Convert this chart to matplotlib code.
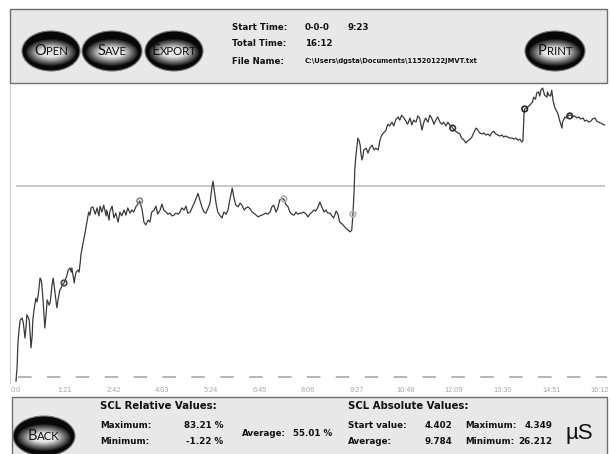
import numpy as np
import matplotlib.pyplot as plt
from matplotlib.patches import Ellipse, Rectangle
from matplotlib.offsetbox import TextArea, HPacker, AnnotationBbox

# SCL relative value (%) against recording time (s)
t_sec = [
    0, 2, 3, 5, 7, 10, 12, 15, 17, 18, 20, 22, 25, 27, 28, 30, 32, 33, 35, 37,
    40, 42, 43, 45, 48, 50, 52, 55, 57, 60, 62, 63, 65, 68, 70, 73, 75, 77, 80, 82,
    85, 87, 90, 92, 93, 97, 98, 100, 103, 105, 107, 108, 112, 115, 118, 121, 123, 125,
    128, 132, 135, 138, 140, 143, 146, 150, 151, 155, 156, 160, 163, 166, 170, 173,
    176, 180, 183, 186, 190, 193, 196, 200, 203, 206, 210, 213, 216, 220, 223, 226,
    230, 233, 236, 240, 243, 246, 250, 253, 256, 260, 263, 266, 270, 273, 276, 280,
    283, 286, 290, 293, 296, 300, 303, 306, 310, 313, 316, 320, 323, 326, 328, 330,
    333, 336, 340, 343, 346, 350, 353, 356, 360, 363, 366, 370, 373, 376, 380, 383,
    386, 390, 393, 396, 400, 403, 406, 409, 413, 416, 419, 423, 426, 429, 433, 436,
    439, 443, 446, 449, 453, 456, 459, 463, 466, 469, 473, 476, 479, 483, 486, 489,
    493, 496, 499, 503, 506, 509, 513, 516, 519, 523, 526, 529, 533, 536, 539, 543,
    546, 549, 553, 556, 559, 561, 563, 564, 566, 568, 569, 571, 573, 574, 576, 578,
    579, 583, 586, 589, 593, 596, 599, 603, 606, 609, 613, 616, 619, 622, 626, 629,
    632, 636, 639, 642, 646, 649, 652, 656, 659, 662, 666, 669, 672, 676, 679, 682,
    686, 689, 692, 696, 699, 702, 706, 709, 712, 716, 719, 722, 726, 729, 732, 736,
    739, 742, 746, 749, 752, 756, 759, 762, 766, 769, 772, 776, 779, 782, 786, 789,
    792, 795, 799, 802, 806, 809, 812, 815, 819, 822, 826, 829, 832, 836, 839, 842,
    844, 846, 847, 850, 854, 857, 860, 862, 865, 867, 870, 872, 874, 877, 880, 884,
    885, 887, 890, 892, 894, 897, 899, 902, 905, 909, 910, 914, 917, 920, 924, 927,
    930, 934, 937, 940, 944, 947, 950, 954, 957, 960, 964, 967, 970, 974, 977, 980,
]
scl_pct = [
    -1.2, 3.5, 9.2, 13.5, 16.4, 17.0, 15.8, 11.2, 15.0, 17.9, 17.3, 16.4, 8.4, 12.1, 16.4, 19.3, 21.6, 22.7, 21.6, 23.6,
    28.5, 27.9, 26.5, 22.2, 14.1, 17.9, 22.2, 20.7, 21.6, 26.5, 28.5, 27.1, 24.5, 19.9, 22.2, 25.1, 25.6, 26.5, 27.1, 27.9,
    29.4, 30.8, 31.4, 30.2, 31.4, 27.1, 28.5, 30.2, 30.8, 30.2, 33.1, 35.1, 38.9, 41.5, 44.6, 47.5, 46.6, 48.7,
    49.0, 46.9, 48.7, 46.4, 49.2, 47.5, 49.5, 46.4, 48.1, 45.2, 47.5, 49.2, 45.8, 47.2, 44.6, 47.5,
    46.4, 48.1, 46.6, 48.7, 47.2, 48.1, 47.5, 49.2, 49.8, 50.7, 48.1, 44.6, 43.8, 45.2, 44.6, 47.5,
    48.1, 49.2, 46.9, 48.1, 49.8, 48.1, 47.5, 46.9, 47.2, 46.4, 46.6, 47.2, 46.9, 47.5, 48.7, 48.1,
    49.2, 47.2, 47.5, 48.7, 49.8, 51.5, 52.9, 51.0, 48.7, 47.5, 47.2, 48.7, 50.1, 54.4, 56.4, 53.8,
    50.1, 47.5, 46.4, 45.8, 47.5, 46.9, 48.1, 51.0, 54.4, 51.5, 49.5, 49.0, 50.1, 49.5, 48.1, 48.7,
    49.0, 48.4, 47.5, 47.2, 46.6, 46.1, 46.4, 46.6, 46.9, 47.2, 46.9, 47.5, 49.0, 49.5, 47.5, 48.7,
    51.0, 51.3, 51.3, 49.8, 49.0, 47.5, 46.9, 46.6, 47.5, 46.9, 47.2, 47.2, 47.5, 46.9, 46.1, 46.9,
    47.5, 48.1, 47.8, 49.0, 50.4, 49.0, 47.5, 48.1, 47.2, 47.2, 46.4, 45.8, 47.8, 46.9, 44.6, 44.1,
    43.5, 42.9, 42.3, 41.8, 42.3, 46.9, 53.8, 59.6, 63.9, 66.8, 68.8, 68.2, 66.8, 64.8, 62.5, 63.9,
    65.4, 65.9, 64.5, 65.9, 66.8, 65.4, 65.9, 65.4, 68.2, 69.7, 70.5, 71.1, 72.8, 72.3, 73.4, 72.3,
    74.0, 74.9, 74.0, 75.4, 74.6, 73.7, 72.8, 74.6, 72.6, 74.0, 73.4, 75.2, 74.6, 71.1, 73.4, 74.6,
    73.4, 75.4, 74.6, 72.8, 74.0, 74.9, 73.4, 72.8, 73.4, 72.3, 73.4, 72.6, 72.0, 71.1, 70.8, 70.3,
    70.0, 68.8, 68.2, 67.4, 68.0, 68.5, 69.1, 70.3, 71.7, 71.1, 70.3, 70.0, 70.3, 69.7, 70.0, 69.4,
    70.3, 70.8, 70.0, 69.7, 69.4, 69.7, 69.1, 69.4, 69.1, 68.8, 68.8, 68.5, 68.8, 68.2, 68.5, 67.7,
    68.0, 76.3, 77.2, 77.5, 78.0, 78.6, 79.2, 80.6, 80.0, 81.8, 82.1, 80.9, 82.6, 83.2, 81.2, 80.6,
    82.1, 81.2, 80.9, 82.6, 79.8, 77.7, 76.9, 76.0, 74.0, 71.7, 73.4, 74.9, 74.6, 75.4, 75.4, 74.9,
    75.2, 74.6, 74.9, 74.3, 74.6, 73.7, 74.0, 73.4, 73.7, 74.3, 74.6, 73.7, 73.4, 73.1, 72.8, 72.6,
]

# event markers on the trace
mark_t = [80, 206, 446, 561, 727, 847, 922]
mark_v = [27.1, 50.7, 51.3, 46.9, 71.7, 77.2, 75.2]
mark_col = ['#444444', '#888888', '#b0b0b0', '#b0b0b0', '#333333', '#222222', '#333333']

avg_pct = 55.01
tick_sec = [0, 81, 162, 243, 324, 405, 486, 567, 648, 729, 810, 891, 972]
tick_lbl = ['0:0', '1:21', '2:42', '4:03', '5:24', '6:45', '8:06',
            '9:27', '10:48', '12:09', '13:30', '14:51', '16:12']

fig = plt.figure(figsize=(6.1, 4.54), dpi=100)
W, H = 610, 454

# chart area
ax = fig.add_axes([10 / W, 71 / H, 597 / W, 298 / H])
ax.plot(t_sec, scl_pct, color='#3a3a3a', lw=0.9, zorder=2)
ax.scatter(mark_t, mark_v, s=16, facecolors='none', edgecolors=mark_col,
           linewidths=1.2, zorder=3)
ax.hlines(avg_pct, 0, 980, color='#c4c4c4', lw=1.3, zorder=1)
ax.hlines(0, 3, 995, color='#b0b0b0', lw=1.3, linestyles=(0, (7.5, 8.5)), zorder=1)
ax.set_xlim(-10, 984)
ax.set_ylim(-1.73, 84.1)
ax.set_xticks(tick_sec, tick_lbl)
ax.set_yticks([])
ax.tick_params(axis='x', length=0, pad=3, labelsize=5.3, labelcolor='#a8a8a8')
for lab in ax.get_xticklabels():
    lab.set_family('Liberation Sans')
for s in ['top', 'right', 'bottom']:
    ax.spines[s].set_visible(False)
ax.spines['left'].set_color('#cccccc')

# overlay in pixel units for the panels
ov = fig.add_axes([0, 0, 1, 1])
ov.set_xlim(0, W)
ov.set_ylim(H, 0)
ov.axis('off')

ov.add_patch(Rectangle((10, 9), 597, 74, fc='#e8e8e8', ec='#6e6e6e', lw=1))
ov.add_patch(Rectangle((12, 397), 595, 70, fc='#e8e8e8', ec='#6e6e6e', lw=1))


def button(cx, cy, w, h, word):
    ov.add_patch(Ellipse((cx, cy), w, h, fc='#080808', ec='#777777', lw=0.8))
    n = 10
    for k in range(n):
        f = k / (n - 1)
        g = 0.15 + 0.75 * f
        ov.add_patch(Ellipse((cx, cy + 1.5), w * (0.86 - 0.45 * f),
                             h * (0.66 - 0.42 * f), fc=(g, g, g), ec='none'))
    first = TextArea(word[0], textprops=dict(size=10.5, family='Lato', color='#111111'))
    rest = TextArea(word[1:], textprops=dict(size=8.2, family='Lato', color='#111111'))
    pk = HPacker(children=[first, rest], align='baseline', pad=0, sep=0)
    ov.add_artist(AnnotationBbox(pk, (cx, cy), xycoords='data', frameon=False,
                                 box_alignment=(0.5, 0.5), pad=0))


button(51, 51, 58, 40, 'OPEN')
button(112, 51, 60, 40, 'SAVE')
button(174, 51, 58, 40, 'EXPORT')
button(555, 51, 60, 40, 'PRINT')
button(44, 436, 62, 40, 'BACK')

hdr = dict(family='DejaVu Sans', fontweight='bold', fontsize=6.2, va='center',
           color='#111111')
ov.text(232, 28, 'Start Time:', **hdr)
ov.text(232, 44, 'Total Time:', **hdr)
ov.text(232, 61, 'File Name:', **hdr)
ov.text(305, 28, '0-0-0', **hdr)
ov.text(347, 28, '9:23', **hdr)
ov.text(305, 44, '16:12', **hdr)
ov.text(305, 61, 'C:\\Users\\dgsta\\Documents\\11520122JMVT.txt',
        **{**hdr, 'fontsize': 4.9})

big = dict(family='DejaVu Sans', fontweight='bold', fontsize=7.3, va='center',
           color='#111111')
lab = dict(family='DejaVu Sans', fontweight='bold', fontsize=6.3, va='center',
           color='#111111')
ov.text(100, 406, 'SCL Relative Values:', **big)
ov.text(100, 425, 'Maximum:', **lab)
ov.text(223, 425, '83.21 %', ha='right', **lab)
ov.text(100, 442, 'Minimum:', **lab)
ov.text(223, 442, '-1.22 %', ha='right', **lab)
ov.text(242, 434, 'Average:', **lab)
ov.text(332, 434, '55.01 %', ha='right', **lab)

ov.text(348, 406, 'SCL Absolute Values:', **big)
ov.text(348, 425, 'Start value:', **lab)
ov.text(452, 425, '4.402', ha='right', **lab)
ov.text(465, 425, 'Maximum:', **lab)
ov.text(552, 425, '4.349', ha='right', **lab)
ov.text(348, 442, 'Average:', **lab)
ov.text(452, 442, '9.784', ha='right', **lab)
ov.text(465, 442, 'Minimum:', **lab)
ov.text(552, 442, '26.212', ha='right', **lab)
ov.text(579, 433, 'µS', family='Liberation Sans', fontsize=16, ha='center',
        va='center', color='#111111')

fig.savefig('out.png', dpi=100)
